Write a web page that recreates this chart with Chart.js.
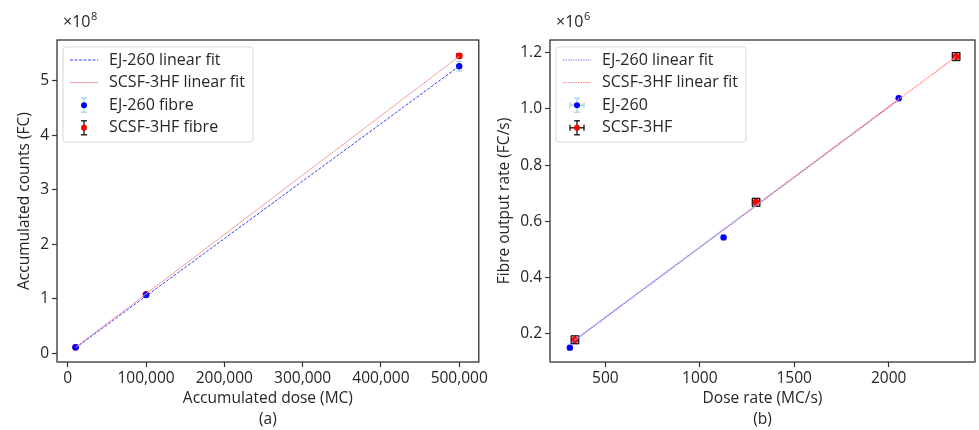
<!DOCTYPE html>
<html>
<head>
<meta charset="utf-8">
<script src="https://cdn.jsdelivr.net/npm/chart.js@4.4.0/dist/chart.umd.min.js"></script>
<style>
  body { margin: 0; background: #fff; width: 979px; height: 430px; overflow: hidden; position: relative; }
  .box { position: absolute; top: 0; height: 430px; }
  #boxA { left: 0; width: 490px; }
  #boxB { left: 490px; width: 489px; }
</style>
</head>
<body>
<div class="box" id="boxA"><canvas id="chartA"></canvas></div>
<div class="box" id="boxB"><canvas id="chartB"></canvas></div>
<script>
// (a) accumulated counts, y values in units of 1e8
var doseA = [10000, 100000, 500000];
var ejCountsA = [0.11, 1.07, 5.27];
var ejErrA = [0.02, 0.03, 0.09];
var scsfCountsA = [0.11, 1.08, 5.46];
var scsfErrA = [0.01, 0.02, 0.04];
var ejFitXA = [10000, 500000];
var ejFitYA = [0.10, 5.27];
var scsfFitXA = [10000, 500000];
var scsfFitYA = [0.11, 5.45];
var xTicksA = [0, 100000, 200000, 300000, 400000, 500000];
var yTicksA = [0, 1, 2, 3, 4, 5];

// (b) output rate, y values in units of 1e6
var ejRateX = [312, 1126, 2053];
var ejRateY = [0.151, 0.543, 1.038];
var ejErrXB = [8, 8, 8];
var ejErrYB = [0.004, 0.004, 0.004];
var scsfRateX = [339, 1298, 2357];
var scsfRateY = [0.179, 0.668, 1.186];
var scsfErrXB = [20, 20, 20];
var scsfErrYB = [0.014, 0.014, 0.014];
var ejFitXB = [312, 2053];
var ejFitYB = [0.164, 1.032];
var scsfFitXB = [339, 2357];
var scsfFitYB = [0.179, 1.186];
var xTicksB = [500, 1000, 1500, 2000];
var yTicksB = [0.2, 0.4, 0.6, 0.8, 1.0, 1.2];

const FONT = 'Open Sans';
const FS = 15.5;
const TXT = '#262626';
const AX = '#333333';

function pts(xs, ys) { return xs.map((x, i) => ({x: x, y: ys[i]})); }

function seg(ctx, x1, y1, x2, y2) {
  ctx.beginPath(); ctx.moveTo(x1, y1); ctx.lineTo(x2, y2); ctx.stroke();
}

// matplotlib-style error bars, drawn under the markers
const errorBars = {
  id: 'errorBars',
  beforeDatasetDraw(chart, args) {
    const ds = chart.data.datasets[args.index];
    if (!ds.errY && !ds.errX) return;
    const ctx = chart.ctx, xs = chart.scales.x, ys = chart.scales.y;
    const cap = ds.capSize || 3;
    ctx.save();
    ctx.strokeStyle = ds.errColor;
    ctx.lineWidth = 1.3;
    ds.data.forEach((p, i) => {
      const px = xs.getPixelForValue(p.x), py = ys.getPixelForValue(p.y);
      if (ds.errY) {
        const y1 = ys.getPixelForValue(p.y - ds.errY[i]), y2 = ys.getPixelForValue(p.y + ds.errY[i]);
        seg(ctx, px, y1, px, y2);
        seg(ctx, px - cap, y1, px + cap, y1);
        seg(ctx, px - cap, y2, px + cap, y2);
      }
      if (ds.errX) {
        const x1 = xs.getPixelForValue(p.x - ds.errX[i]), x2 = xs.getPixelForValue(p.x + ds.errX[i]);
        seg(ctx, x1, py, x2, py);
        seg(ctx, x1, py - cap, x1, py + cap);
        seg(ctx, x2, py - cap, x2, py + cap);
      }
    });
    ctx.restore();
  }
};

// frame, offset text and in-plot legend
const decor = {
  id: 'decor',
  afterDraw(chart, args, opts) {
    const ctx = chart.ctx, a = chart.chartArea;
    ctx.save();
    ctx.strokeStyle = AX;
    ctx.lineWidth = 1.3;
    ctx.strokeRect(a.left, a.top, a.right - a.left, a.bottom - a.top);

    // offset text like "×10^8"
    ctx.fillStyle = TXT;
    ctx.font = '16px "' + FONT + '"';
    ctx.textBaseline = 'alphabetic';
    const ox = a.left + 6, oy = 27;
    ctx.fillText('×10', ox, oy);
    const w = ctx.measureText('×10').width;
    ctx.font = '11px "' + FONT + '"';
    ctx.fillText(opts.exp, ox + w + 0.5, oy - 7);

    // legend
    ctx.font = '16px "' + FONT + '"';
    const items = opts.items;
    const tw = Math.max(...items.map(it => ctx.measureText(it.label).width));
    const x0 = a.left + 6, y0 = a.top + 7;
    const bw = 46 + tw + 8, bh = 95;
    ctx.beginPath();
    ctx.roundRect(x0, y0, bw, bh, 3);
    ctx.fillStyle = 'rgba(255,255,255,0.85)';
    ctx.fill();
    ctx.strokeStyle = '#d8d8d8';
    ctx.lineWidth = 1;
    ctx.stroke();
    items.forEach((it, i) => {
      const cy = y0 + 13 + i * 22.6;
      const cx = x0 + 21;
      if (it.kind === 'line') {
        ctx.strokeStyle = it.color;
        ctx.lineWidth = 1;
        ctx.setLineDash(it.dash || []);
        seg(ctx, x0 + 7, cy, x0 + 35, cy);
        ctx.setLineDash([]);
      } else {
        ctx.strokeStyle = it.errColor;
        ctx.lineWidth = 1.3;
        const c = it.cap;
        seg(ctx, cx, cy - 7, cx, cy + 7);
        seg(ctx, cx - c, cy - 7, cx + c, cy - 7);
        seg(ctx, cx - c, cy + 7, cx + c, cy + 7);
        if (it.xerr) {
          seg(ctx, cx - 7, cy, cx + 7, cy);
          seg(ctx, cx - 7, cy - c, cx - 7, cy + c);
          seg(ctx, cx + 7, cy - c, cx + 7, cy + c);
        }
        ctx.beginPath();
        ctx.arc(cx, cy, 3, 0, Math.PI * 2);
        ctx.fillStyle = it.color;
        ctx.fill();
      }
      ctx.fillStyle = TXT;
      ctx.textBaseline = 'middle';
      ctx.fillText(it.label, x0 + 46, cy);
    });
    ctx.restore();
  }
};

function axisX(ticks, min, max, fmt, title) {
  return {
    type: 'linear', min: min, max: max,
    afterBuildTicks: s => { s.ticks = ticks.map(v => ({value: v})); },
    afterFit: s => { s.height = 68; },
    ticks: { font: {family: FONT, size: FS}, color: TXT, padding: 2, maxRotation: 0, autoSkip: false, callback: fmt },
    grid: { drawOnChartArea: false, tickLength: 5, color: AX, tickWidth: 1.2 },
    border: { display: false },
    title: { display: true, text: title, color: TXT, font: {family: FONT, size: FS, lineHeight: 21 / FS}, padding: {top: 0, bottom: 0} }
  };
}

function axisY(ticks, min, max, fmt, title, width, tpad) {
  return {
    type: 'linear', min: min, max: max,
    afterBuildTicks: s => { s.ticks = ticks.map(v => ({value: v})); },
    afterFit: s => { s.width = width; },
    ticks: { font: {family: FONT, size: FS}, color: TXT, padding: 3, autoSkip: false, callback: fmt },
    grid: { drawOnChartArea: false, tickLength: 5, color: AX, tickWidth: 1.2 },
    border: { display: false },
    title: { display: true, text: title, color: TXT, font: {family: FONT, size: FS}, padding: {top: tpad, bottom: 0} }
  };
}

const common = {
  responsive: true,
  maintainAspectRatio: false,
  animation: false,
  plugins: { legend: { display: false }, tooltip: { enabled: false } }
};

new Chart(document.getElementById('chartA'), {
  type: 'scatter',
  data: {
    datasets: [
      { type: 'line', data: pts(ejFitXA, ejFitYA), borderColor: '#3c3cff', borderWidth: 1, borderDash: [3, 1.5], pointRadius: 0, fill: false },
      { type: 'line', data: pts(scsfFitXA, scsfFitYA), borderColor: '#f2a0a0', borderWidth: 1, pointRadius: 0, fill: false },
      { data: pts(doseA, ejCountsA), backgroundColor: '#0000ff', borderWidth: 0, pointRadius: 3.2,
        errY: ejErrA, errColor: '#9fd3ec', capSize: 3 },
      { data: pts(doseA, scsfCountsA), backgroundColor: '#ff0000', borderWidth: 0, pointRadius: 3.4,
        errY: scsfErrA, errColor: '#111111', capSize: 3 }
    ]
  },
  options: Object.assign({}, common, {
    layout: { padding: {top: 40, right: 2, left: 0, bottom: 0} },
    scales: {
      x: axisX(xTicksA, -13750, 525000, v => v.toLocaleString('en-US'), ['Accumulated dose (MC)', '(a)']),
      y: axisY(yTicksA, -0.16, 5.75, v => String(v), 'Accumulated counts (FC)', 57, 15)
    },
    plugins: Object.assign({}, common.plugins, {
      decor: {
        exp: '8',
        items: [
          { kind: 'line', label: 'EJ-260 linear fit', color: '#3c3cff', dash: [3, 1.5] },
          { kind: 'line', label: 'SCSF-3HF linear fit', color: '#f2a0a0' },
          { kind: 'err', label: 'EJ-260 fibre', color: '#0000ff', errColor: '#9fd3ec', cap: 3 },
          { kind: 'err', label: 'SCSF-3HF fibre', color: '#ff0000', errColor: '#111111', cap: 3 }
        ]
      }
    })
  }),
  plugins: [errorBars, decor]
});

new Chart(document.getElementById('chartB'), {
  type: 'scatter',
  data: {
    datasets: [
      { type: 'line', data: pts(ejFitXB, ejFitYB), borderColor: '#8080ff', borderWidth: 1.2, borderDash: [1.5, 1], pointRadius: 0, fill: false },
      { type: 'line', data: pts(scsfFitXB, scsfFitYB), borderColor: '#ff8080', borderWidth: 1.2, borderDash: [1.5, 1], pointRadius: 0, fill: false },
      { data: pts(ejRateX, ejRateY), backgroundColor: '#0000ff', borderWidth: 0, pointRadius: 3.2,
        errX: ejErrXB, errY: ejErrYB, errColor: '#9fd3ec', capSize: 3 },
      { data: pts(scsfRateX, scsfRateY), backgroundColor: '#ff0000', borderWidth: 0, pointRadius: 3.4,
        errX: scsfErrXB, errY: scsfErrYB, errColor: '#111111', capSize: 4 }
    ]
  },
  options: Object.assign({}, common, {
    layout: { padding: {top: 40, right: 1, left: 0, bottom: 0} },
    scales: {
      x: axisX(xTicksB, 207, 2457, v => String(v), ['Dose rate (MC/s)', '(b)']),
      y: axisY(yTicksB, 0.1, 1.245, v => v.toFixed(1), 'Fibre output rate (FC/s)', 60, 5)
    },
    plugins: Object.assign({}, common.plugins, {
      decor: {
        exp: '6',
        items: [
          { kind: 'line', label: 'EJ-260 linear fit', color: '#8080ff', dash: [1.5, 1] },
          { kind: 'line', label: 'SCSF-3HF linear fit', color: '#ff8080', dash: [1.5, 1] },
          { kind: 'err', label: 'EJ-260', color: '#0000ff', errColor: '#9fd3ec', cap: 3, xerr: true },
          { kind: 'err', label: 'SCSF-3HF', color: '#ff0000', errColor: '#111111', cap: 3, xerr: true }
        ]
      }
    })
  }),
  plugins: [errorBars, decor]
});
</script>
</body>
</html>
